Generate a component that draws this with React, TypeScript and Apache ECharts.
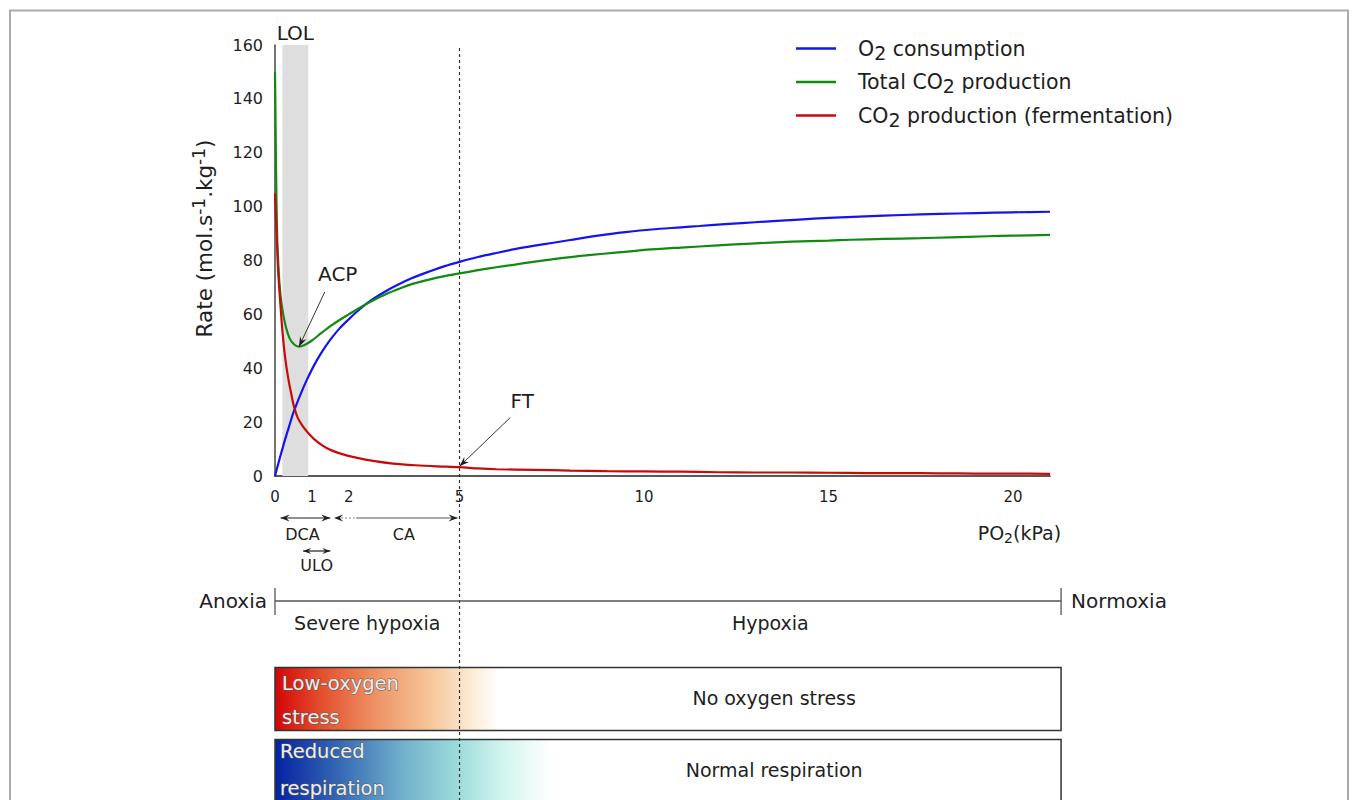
import React, { useEffect, useRef } from "react";
import * as echarts from "echarts";

// ---------- data ----------
const seriesNames = ["O2 consumption", "Total CO2 production", "CO2 production (fermentation)"];
const seriesColors = ["#1414f0", "#118a11", "#c80a0a"];

const xTickLabels = [0, 1, 2, 5, 10, 15, 20];

const o2Consumption: [number, number][] = [
  [0, 0], [0.05, 2.6], [0.15, 7.6], [0.27, 13.4], [0.4, 19.2], [0.5, 23.6], [0.7, 30.6], [0.86, 35.6],
  [1.04, 40.6], [1.25, 45.6], [1.5, 50.6], [1.75, 54.8], [2, 58.2], [2.3, 62], [2.6, 65.2], [3, 68.6],
  [3.3, 70.8], [3.7, 73.4], [4.2, 76], [4.6, 77.9], [5, 79.5], [5.5, 81.3], [6, 82.8], [6.5, 84.2],
  [7, 85.4], [7.5, 86.5], [8, 87.6], [8.8, 89.3], [9.5, 90.5], [10.2, 91.5], [11, 92.3], [11.5, 92.8],
  [12.3, 93.6], [13, 94.2], [14.2, 95.2], [15, 95.8], [16, 96.4], [17, 96.9], [18, 97.3], [19, 97.6],
  [20, 97.9], [21, 98.1],
];

const totalCO2: [number, number][] = [
  [0, 150], [0.01, 138], [0.03, 112], [0.06, 88], [0.1, 76], [0.15, 67], [0.21, 61], [0.3, 55],
  [0.4, 51], [0.52, 48.8], [0.65, 48], [0.8, 48.6], [1, 50.3], [1.25, 53], [1.5, 55.6], [1.76, 58],
  [2, 60], [2.3, 62.5], [2.6, 64.8], [3, 67.5], [3.4, 69.7], [3.75, 71.4], [4.2, 73], [4.6, 74.2],
  [5, 75.2], [5.5, 76.4], [6, 77.5], [6.5, 78.5], [7, 79.5], [7.7, 80.8], [8.5, 82], [9.3, 83],
  [10.2, 84.1], [11, 84.8], [12, 85.6], [12.9, 86.3], [14, 87], [15, 87.4], [15.6, 87.7], [16.5, 88],
  [17.5, 88.3], [18.3, 88.6], [19.3, 89], [20, 89.2], [21, 89.5],
];

const fermentationCO2: [number, number][] = [
  [0, 105], [0.02, 98], [0.05, 88], [0.09, 75], [0.15, 63], [0.2, 54], [0.27, 44.5], [0.35, 37],
  [0.44, 30.5], [0.52, 25.5], [0.62, 21.5], [0.75, 18.5], [0.9, 16], [1.1, 13.2], [1.3, 11.2],
  [1.5, 9.7], [1.8, 8.2], [2.2, 6.8], [2.7, 5.5], [3.2, 4.6], [3.8, 4], [4.4, 3.6], [5, 3.3],
  [5.5, 2.8], [6, 2.5], [7, 2.3], [8, 2], [9, 1.8], [10, 1.7], [11, 1.6], [12, 1.4], [13, 1.3],
  [14, 1.3], [15, 1.2], [16, 1.1], [17, 1.1], [18, 1], [19, 0.9], [20, 0.9], [21, 0.8],
];

// annotation anchors (data coordinates)
const lolBand = [0.2, 0.9];
const thresholdX = 5;
const acpPoint = [0.65, 48];
const acpLabel = [1.7, 75];
const ftPoint = [5, 3.6];
const ftLabel = [6.7, 28];
const dcaRange = [0.15, 1.5];
const caRange = [1.6, 4.95];
const uloRange = [0.76, 1.5];
const scaleEnd = 21.3;

export default function App() {
  const ref = useRef<HTMLDivElement>(null);

  useEffect(() => {
    const chart = echarts.init(ref.current!, null, { renderer: "svg" });
    const font = "DejaVu Sans, Verdana, sans-serif";
    const ink = "#1e1e1e";

    const seriesData = [o2Consumption, totalCO2, fermentationCO2];

    chart.setOption({
      animation: false,
      backgroundColor: "#ffffff",
      textStyle: { fontFamily: font },
      grid: { left: 275, top: 45, right: 305, bottom: 324 },
      legend: {
        orient: "vertical",
        left: 791,
        top: 33,
        icon: "rect",
        itemWidth: 40,
        itemHeight: 2.5,
        itemGap: 9.5,
        data: seriesNames,
        formatter: (n: string) => n.replace("2", "{sub|2}"),
        textStyle: {
          fontSize: 20.5,
          color: ink,
          fontFamily: font,
          padding: [0, 0, 0, 17],
          rich: {
            sub: { fontSize: 19, color: ink, fontFamily: font, padding: [8, 0, 0, 0] },
          },
        },
      },
      xAxis: {
        type: "value",
        min: 0,
        max: 21,
        interval: 1,
        axisLine: { show: true, lineStyle: { color: "#222", width: 1.5 } },
        axisTick: { show: false },
        splitLine: { show: false },
        axisLabel: {
          fontSize: 15,
          color: ink,
          margin: 13,
          fontFamily: font,
          formatter: (v: number) => (xTickLabels.includes(v) ? String(v) : ""),
        },
      },
      yAxis: {
        type: "value",
        min: 0,
        max: 160,
        interval: 20,
        name: "Rate (mol.s{sup|-1}.kg{sup|-1})",
        nameLocation: "middle",
        nameRotate: 90,
        nameGap: 56,
        nameTextStyle: {
          fontSize: 21.5,
          color: ink,
          fontFamily: font,
          padding: [0, 0, 0, 44],
          rich: { sup: { fontSize: 17, color: ink, fontFamily: font, padding: [0, 0, 12, 0] } },
        },
        axisLine: { show: true, lineStyle: { color: "#444", width: 1.5 } },
        axisTick: { show: false },
        splitLine: { show: false },
        axisLabel: { fontSize: 16, color: ink, margin: 12, fontFamily: font },
      },
      series: [
        {
          type: "line",
          name: "band",
          data: [],
          z: 1,
          silent: true,
          markArea: {
            silent: true,
            itemStyle: { color: "#dedede" },
            data: [[{ xAxis: lolBand[0] }, { xAxis: lolBand[1] }]],
          },
        },
        ...seriesNames.map((name, i) => ({
          type: "line",
          name,
          data: seriesData[i],
          z: 3 + i,
          symbol: "none",
          smooth: 0.3,
          lineStyle: { color: seriesColors[i], width: 2.2 },
          itemStyle: { color: seriesColors[i] },
        })),
      ],
    });

    const px = (x: number, y: number) => chart.convertToPixel({ gridIndex: 0 }, [x, y]) as number[];
    const x0 = px(0, 0)[0];
    const xEnd = px(scaleEnd, 0)[0];
    const xT = px(thresholdX, 0)[0];
    const yTop = px(0, 160)[1];

    const head = (x1: number, y1: number, x2: number, y2: number, len = 9, w = 3.5) => {
      const a = Math.atan2(y2 - y1, x2 - x1);
      const c = Math.cos(a), s = Math.sin(a);
      const bx = x2 - len * c, by = y2 - len * s;
      const mx = x2 - len * 0.65 * c, my = y2 - len * 0.65 * s;
      return {
        type: "polygon",
        silent: true,
        z: 20,
        shape: { points: [[x2, y2], [bx - s * w, by + c * w], [mx, my], [bx + s * w, by - c * w]] },
        style: { fill: ink },
      };
    };
    const line = (x1: number, y1: number, x2: number, y2: number, extra: any = {}) => ({
      type: "line",
      silent: true,
      z: 20,
      shape: { x1, y1, x2, y2 },
      style: { stroke: ink, lineWidth: 1.2, ...extra },
    });
    const text = (x: number, y: number, t: string, size: number, align = "center", extra: any = {}) => ({
      type: "text",
      silent: true,
      z: 30,
      x,
      y,
      style: {
        text: t,
        fontSize: size,
        fontFamily: font,
        fill: ink,
        align,
        textAlign: align,
        verticalAlign: "middle",
        textVerticalAlign: "middle",
        ...extra,
      },
    });

    const acpA = px(acpPoint[0], acpPoint[1]);
    const acpL = px(acpLabel[0], acpLabel[1]);
    const acpS = [acpL[0] - 13, acpL[1] + 18];
    const ftA = px(ftPoint[0], ftPoint[1]);
    const ftL = px(ftLabel[0], ftLabel[1]);
    const ftS = [ftL[0] - 12, ftL[1] + 17];
    const lolC = px((lolBand[0] + lolBand[1]) / 2, 160);

    const yArr = 518;
    const dca0 = px(dcaRange[0], 0)[0], dca1 = px(dcaRange[1], 0)[0];
    const ca0 = px(caRange[0], 0)[0], ca1 = px(caRange[1], 0)[0];
    const ulo0 = px(uloRange[0], 0)[0], ulo1 = px(uloRange[1], 0)[0];
    const yUlo = 551;
    const yScale = 601;

    const boxW = xEnd - x0;
    const grad1 = new echarts.graphic.LinearGradient(0, 0, 1, 0, [
      { offset: 0, color: "#d30606" },
      { offset: 0.06, color: "#e4502e" },
      { offset: 0.13, color: "#ee9466" },
      { offset: 0.2, color: "#f6c89c" },
      { offset: 0.25, color: "#fcebd6" },
      { offset: 0.285, color: "#ffffff" },
      { offset: 1, color: "#ffffff" },
    ]);
    const grad2 = new echarts.graphic.LinearGradient(0, 0, 1, 0, [
      { offset: 0, color: "#0422a2" },
      { offset: 0.08, color: "#3467b4" },
      { offset: 0.16, color: "#6fafcb" },
      { offset: 0.23, color: "#9bdada" },
      { offset: 0.29, color: "#d2f5ee" },
      { offset: 0.35, color: "#ffffff" },
      { offset: 1, color: "#ffffff" },
    ]);
    const outlined = { fill: "#eeeeee", stroke: "#5a5a5a", lineWidth: 1 };

    chart.setOption({
      graphic: [
        {
          type: "rect",
          silent: true,
          z: 0,
          shape: { x: 10, y: 10.5, width: 1338, height: 820 },
          style: { fill: "none", stroke: "#ababab", lineWidth: 2 },
        },
        text(lolC[0], 33, "LOL", 20),
        // threshold dashed line
        line(xT, yTop + 3, xT, 800, { lineDash: [3, 3], lineWidth: 1.2, stroke: "#333" }),
        // ACP
        text(acpL[0], acpL[1], "ACP", 20),
        line(acpS[0], acpS[1], acpA[0], acpA[1], { lineWidth: 0.9 }),
        head(acpS[0], acpS[1], acpA[0], acpA[1], 10, 3.5),
        // FT
        text(ftL[0], ftL[1], "FT", 20),
        line(ftS[0], ftS[1], ftA[0], ftA[1], { lineWidth: 0.9 }),
        head(ftS[0], ftS[1], ftA[0], ftA[1], 10, 3.5),
        // x axis title
        {
          type: "text",
          silent: true,
          z: 30,
          x: xEnd,
          y: 533,
          style: {
            text: "PO{sub|2}(kPa)",
            fontSize: 19,
            fontFamily: font,
            fill: ink,
            align: "right",
            textAlign: "right",
            verticalAlign: "middle",
            textVerticalAlign: "middle",
            rich: { sub: { fontSize: 14, fontFamily: font, fill: ink, padding: [10, 0, 0, 0] } },
          },
        },
        // DCA arrow
        line(dca0, yArr, dca1, yArr),
        head(dca1, yArr, dca0, yArr, 9, 3.5),
        head(dca0, yArr, dca1, yArr, 9, 3.5),
        text((dca0 + dca1) / 2 - 3, 534, "DCA", 16),
        // CA arrow
        line(ca0 + 3, yArr, px(2.2, 0)[0], yArr, { lineDash: [2, 2], stroke: "#888" }),
        line(px(2.2, 0)[0], yArr, ca1, yArr, { stroke: "#555" }),
        head(ca0 + 12, yArr, ca0, yArr, 9, 3.5),
        head(ca0, yArr, ca1, yArr, 9, 3.5),
        text((ca0 + ca1) / 2 + 8, 534, "CA", 16),
        // ULO
        line(ulo0, yUlo, ulo1, yUlo),
        head(ulo1, yUlo, ulo0, yUlo, 8, 3),
        head(ulo0, yUlo, ulo1, yUlo, 8, 3),
        text((ulo0 + ulo1) / 2, 565, "ULO", 16),
        // anoxia–normoxia scale
        line(x0, yScale, xEnd, yScale, { stroke: "#555", lineWidth: 1.3 }),
        line(x0, yScale - 13, x0, yScale + 14, { stroke: "#555", lineWidth: 1.3 }),
        line(xEnd, yScale - 13, xEnd, yScale + 14, { stroke: "#555", lineWidth: 1.3 }),
        text(x0 - 8, yScale, "Anoxia", 20, "right"),
        text(xEnd + 10, yScale, "Normoxia", 20, "left"),
        text((x0 + xT) / 2, 623, "Severe hypoxia", 19),
        text((xT + xEnd) / 2 + 10, 623, "Hypoxia", 19),
        // state boxes
        {
          type: "rect",
          silent: true,
          z: 5,
          shape: { x: x0, y: 667.5, width: boxW, height: 63 },
          style: { fill: grad1, stroke: "#333", lineWidth: 1.5 },
        },
        {
          type: "rect",
          silent: true,
          z: 5,
          shape: { x: x0, y: 739.5, width: boxW, height: 70 },
          style: { fill: grad2, stroke: "#333", lineWidth: 1.5 },
        },
        text(x0 + 7, 683, "Low-oxygen", 19.5, "left", outlined),
        text(x0 + 7, 717, "stress", 19.5, "left", outlined),
        text(x0 + 5, 751, "Reduced", 19.5, "left", outlined),
        text(x0 + 5, 788, "respiration", 19.5, "left", outlined),
        text(x0 + boxW * 0.635, 698, "No oxygen stress", 19),
        text(x0 + boxW * 0.635, 770, "Normal respiration", 19),
      ],
    });

    return () => chart.dispose();
  }, []);

  return (
    <div
      ref={ref}
      style={{ position: "fixed", left: 0, top: 0, width: 1355, height: 800, background: "#fff" }}
    />
  );
}
